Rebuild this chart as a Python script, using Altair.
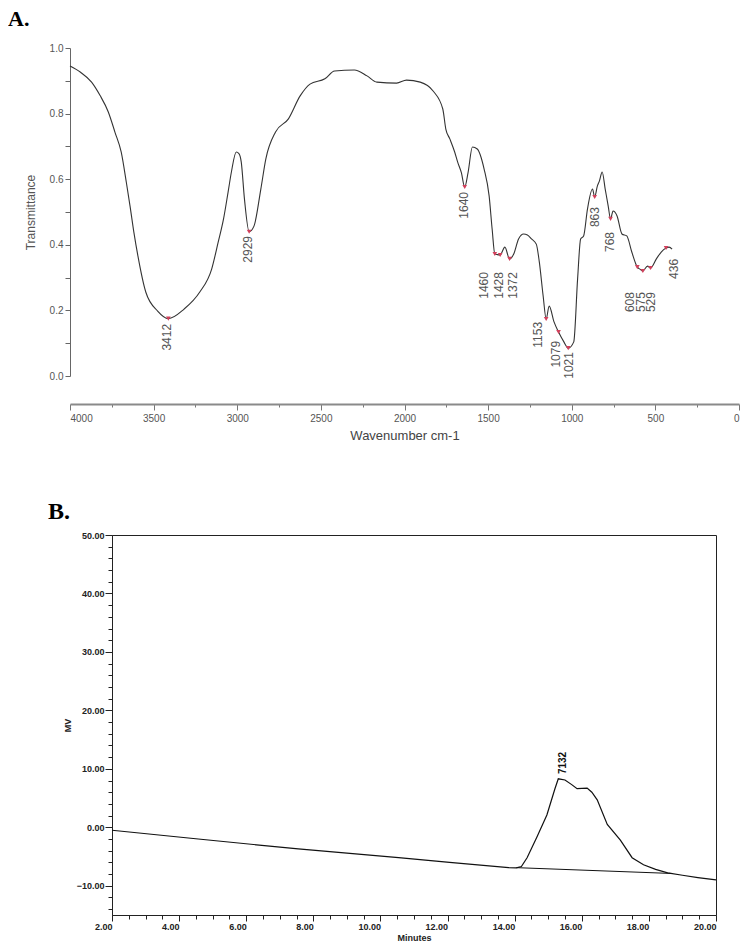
import altair as alt
import pandas as pd

# ---------------- Panel A: FTIR spectrum ----------------
wavenumber = [4000, 3937, 3871, 3820, 3771, 3731, 3694, 3663, 3641, 3618, 3594, 3547,
              3476, 3412, 3318, 3224, 3153, 3114, 3082, 3055, 3035, 3006, 2990, 2976,
              2957, 2929, 2900, 2859, 2829, 2771, 2694, 2624, 2565, 2476, 2418, 2300,
              2224, 2165, 2047, 1988, 1906, 1829, 1771, 1753, 1729, 1700, 1682, 1660,
              1640, 1620, 1594, 1565, 1524, 1494, 1476, 1460, 1445, 1428, 1400, 1372,
              1347, 1318, 1288, 1265, 1241, 1212, 1194, 1171, 1153, 1135, 1106, 1079,
              1047, 1021, 988, 965, 947, 929, 906, 876, 863, 847, 835, 818, 800, 782,
              768, 753, 729, 700, 671, 641, 608, 590, 575, 547, 529, 494, 465, 436,
              418, 400]
transmittance = [0.945, 0.926, 0.896, 0.855, 0.805, 0.743, 0.683, 0.590, 0.518, 0.438,
                 0.366, 0.256, 0.198, 0.175, 0.204, 0.256, 0.326, 0.408, 0.479, 0.560,
                 0.622, 0.683, 0.678, 0.652, 0.540, 0.440, 0.457, 0.570, 0.662, 0.744,
                 0.784, 0.854, 0.890, 0.906, 0.930, 0.933, 0.915, 0.896, 0.893, 0.902,
                 0.896, 0.869, 0.814, 0.753, 0.723, 0.683, 0.652, 0.620, 0.576, 0.620,
                 0.698, 0.692, 0.631, 0.549, 0.448, 0.372, 0.370, 0.369, 0.393, 0.357,
                 0.372, 0.418, 0.433, 0.430, 0.418, 0.402, 0.348, 0.244, 0.174, 0.213,
                 0.165, 0.134, 0.104, 0.085, 0.104, 0.296, 0.418, 0.427, 0.509, 0.570,
                 0.546, 0.579, 0.594, 0.622, 0.570, 0.518, 0.479, 0.503, 0.488, 0.433,
                 0.427, 0.378, 0.332, 0.325, 0.320, 0.335, 0.329, 0.357, 0.378, 0.390,
                 0.393, 0.387]

peak_wn = [3412, 2929, 1640, 1460, 1428, 1372, 1153, 1079, 1021, 863, 768, 608, 575, 529, 436]
peak_t = [0.175, 0.440, 0.576, 0.372, 0.369, 0.357, 0.174, 0.134, 0.085, 0.546, 0.479,
          0.332, 0.320, 0.329, 0.390]
label_text = ["3412", "2929", "1640", "1460", "1428", "1372", "1153", "1079", "1021",
              "863", "768", "608", "575", "529", "436"]
label_wn = [3418, 2935, 1647, 1524, 1435, 1353, 1202, 1094, 1018, 859, 771, 649, 588, 529, 388]
label_t = [0.159, 0.427, 0.561, 0.317, 0.317, 0.317, 0.165, 0.107, 0.073, 0.515, 0.439,
           0.256, 0.256, 0.256, 0.357]

# ---------------- Panel B: chromatogram ----------------
minutes = [2.0, 4.57, 7.55, 10.54, 12.06, 13.82, 14.05, 14.2, 14.37, 14.66, 14.96, 15.2,
           15.3, 15.5, 15.7, 15.86, 16.16, 16.3, 16.46, 16.76, 17.15, 17.5, 17.84, 18.2,
           18.56, 19.0, 19.46, 20.0]
mv = [-0.5, -2.0, -3.7, -5.2, -6.0, -6.9, -6.95, -6.7, -5.2, -1.7, 2.1, 6.6, 8.3, 8.1,
      7.3, 6.6, 6.7, 6.0, 4.7, 0.5, -2.2, -5.2, -6.4, -7.2, -7.8, -8.2, -8.6, -9.0]
base_min = [14.05, 18.7]
base_mv = [-6.9, -7.9]
peak_label = ["7132"]
peak_label_min = [15.43]
peak_label_mv = [9.1]

df_ir = pd.DataFrame({"wn": wavenumber, "t": transmittance, "o": range(len(wavenumber))})
df_pk = pd.DataFrame({"wn": peak_wn, "t": peak_t})
df_lb = pd.DataFrame({"wn": label_wn, "t": label_t, "txt": label_text})

xA = alt.X("wn:Q", scale=alt.Scale(domain=[0, 4000], reverse=True, nice=False),
           axis=alt.Axis(values=list(range(0, 4001, 250)), tickCount=200,
                         labelExpr="datum.value % 500 == 0 ? datum.value : ''",
                         labelOverlap=False,
                         title="Wavenumber cm-1", offset=28, grid=False,
                         domainColor="#8a8a8a", domainWidth=2, tickColor="#777",
                         tickSize={"condition": {"test": "datum.value % 500 == 0", "value": 6}, "value": 3},
                         labelColor="#555", labelFontSize=10,
                         labelFont="Liberation Sans", titleFont="Liberation Sans",
                         titleFontSize=13, titleFontWeight="normal", titleColor="#444",
                         titlePadding=6, labelPadding=3))
yA = alt.Y("t:Q", scale=alt.Scale(domain=[0, 1], nice=False),
           axis=alt.Axis(values=[i / 10 for i in range(11)], tickCount=200,
                         labelExpr="round(datum.value*10) % 2 == 0 ? format(datum.value, '.1f') : ''",
                         labelOverlap=False,
                         title="Transmittance", grid=False, domainColor="#666",
                         tickColor="#666", tickSize=5, labelColor="#555", labelFontSize=10,
                         labelFont="Liberation Sans", titleFont="Liberation Sans",
                         titleFontSize=12, titleFontWeight="normal", titleColor="#555",
                         titlePadding=12))

lineA = alt.Chart(df_ir).mark_line(color="#333", strokeWidth=1.1, interpolate="monotone").encode(
    x=xA, y=yA, order="o:Q")
ptsA = alt.Chart(df_pk).mark_point(shape="triangle-down", filled=True, size=22,
                                   color="#d2405c", opacity=1).encode(x="wn:Q", y="t:Q")
txtA = alt.Chart(df_lb).mark_text(angle=270, align="right", baseline="middle", fontSize=12,
                                  font="Liberation Sans", color="#555").encode(
    x="wn:Q", y="t:Q", text="txt:N")

chartA = alt.layer(lineA, ptsA, txtA).properties(
    width=669, height=328,
    view=alt.ViewBackground(stroke="transparent", strokeWidth=0),
    title=alt.TitleParams("A.", anchor="start", frame="group", dx=-62, offset=-5,
                          baseline="alphabetic",
                          font="Liberation Serif", fontSize=22, fontWeight="bold",
                          color="black"))

df_ch = pd.DataFrame({"m": minutes, "v": mv})
df_base = pd.DataFrame({"m": base_min, "v": base_mv})
df_pl = pd.DataFrame({"m": peak_label_min, "v": peak_label_mv, "txt": peak_label})

xB = alt.X("m:Q", scale=alt.Scale(domain=[2, 20], nice=False),
           axis=alt.Axis(values=[2 + 0.5 * i for i in range(37)], tickCount=200,
                         labelExpr="datum.value % 2 == 0 ? format(datum.value, '.2f') : ''",
                         labelOverlap=False,
                         labelAlign="right", title="Minutes", grid=False,
                         domainColor="#222", tickColor="#222",
                         tickSize={"condition": {"test": "datum.value % 2 == 0", "value": 6}, "value": 4},
                         labelColor="#222", labelFontSize=9, labelFontWeight="bold",
                         labelFont="Liberation Sans", titleFont="Liberation Sans",
                         titleFontSize=9, titleFontWeight="bold", titleColor="#222",
                         titlePadding=2, labelPadding=1))
yB = alt.Y("v:Q", scale=alt.Scale(domain=[-15, 50], nice=False),
           axis=alt.Axis(values=list(range(-14, 51, 2)), tickCount=200,
                         labelExpr="datum.value % 10 == 0 ? format(datum.value, '.2f') : ''",
                         labelOverlap=False,
                         title="MV", grid=False, domainColor="#222", tickColor="#222",
                         tickSize={"condition": {"test": "datum.value % 10 == 0", "value": 7}, "value": 4},
                         labelColor="#222", labelFontSize=9, labelFontWeight="bold",
                         labelFont="Liberation Sans", titleFont="Liberation Sans",
                         titleFontSize=9, titleFontWeight="bold", titleColor="#222",
                         titlePadding=4, labelPadding=1))

lineB = alt.Chart(df_ch).mark_line(color="#111", strokeWidth=1.2).encode(x=xB, y=yB)
baseB = alt.Chart(df_base).mark_line(color="#111", strokeWidth=1).encode(x="m:Q", y="v:Q")
txtB = alt.Chart(df_pl).mark_text(angle=270, align="left", baseline="middle", fontSize=10,
                                  fontWeight="bold", font="Liberation Sans",
                                  color="#111").encode(x="m:Q", y="v:Q", text="txt:N")

chartB = alt.layer(lineB, baseB, txtB).properties(
    width=604, height=380,
    view=alt.ViewBackground(stroke="#222", strokeWidth=1),
    title=alt.TitleParams("B.", anchor="start", frame="group", dx=-64, offset=-12,
                          baseline="alphabetic",
                          font="Liberation Serif", fontSize=24, fontWeight="bold",
                          color="black"))

spacer = alt.Chart(pd.DataFrame({"a": [0]})).mark_point(opacity=0).encode(
    x=alt.value(0), y=alt.value(0)).properties(
    width=42, height=10, view=alt.ViewBackground(stroke="transparent", strokeWidth=0))

rowB = alt.hconcat(spacer, chartB, spacing=0, bounds="flush")

chart = alt.vconcat(chartA, rowB, spacing=57).properties(padding=0).configure_view(
    stroke="transparent", strokeWidth=0).configure(background="white")

chart.save("out.html", embed_options={"renderer": "svg", "actions": False})
